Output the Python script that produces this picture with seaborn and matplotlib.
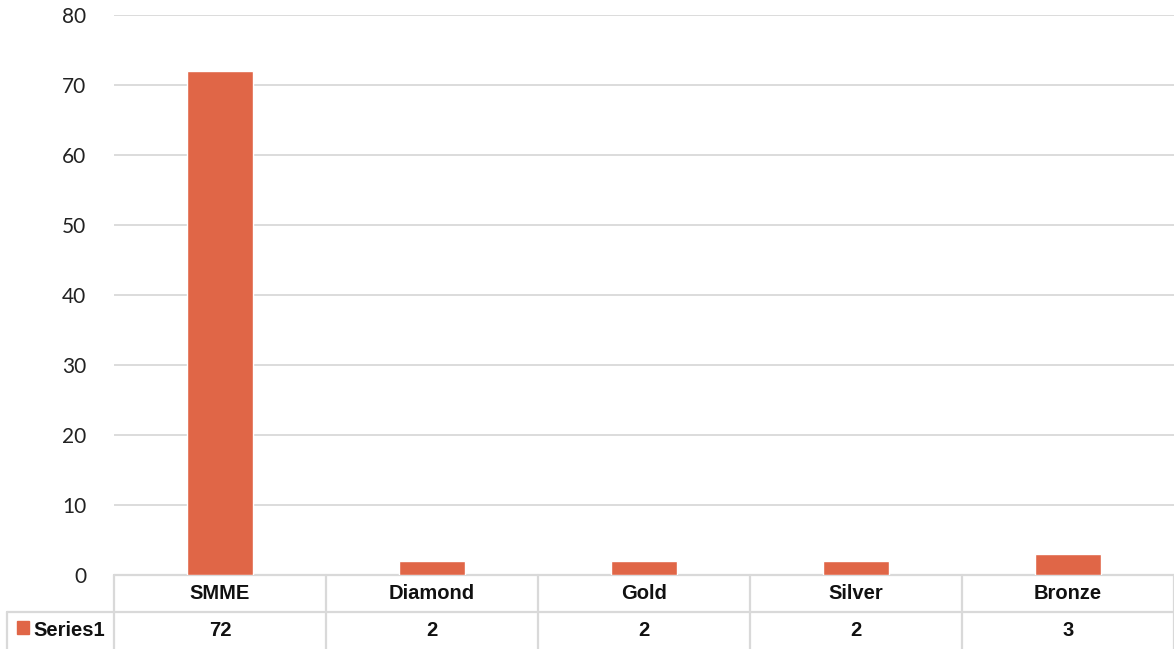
import matplotlib
matplotlib.use("Agg")
import matplotlib.pyplot as plt
from matplotlib.patches import Rectangle
import seaborn as sns
import pandas as pd

categories = ["SMME", "Diamond", "Gold", "Silver", "Bronze"]
values = [72, 2, 2, 2, 3]
series_name = "Series1"
y_ticks = [0, 10, 20, 30, 40, 50, 60, 70, 80]

bar_color = "#E06647"
grid_color = "#D9D9D9"

sns.set_theme(style="white")
plt.rcParams["font.family"] = ["Lato", "DejaVu Sans"]
bold_family = ["Liberation Sans", "DejaVu Sans"]

W, H = 1174, 649
fig = plt.figure(figsize=(W / 100, H / 100), dpi=100)
ax = fig.add_axes([114 / W, 1 - 575 / H, 1 - 114 / W, (575 - 15) / H])

df = pd.DataFrame({"category": categories, "value": values})
sns.barplot(data=df, x="category", y="value", color=bar_color, width=0.316,
            saturation=1, ax=ax, zorder=3)

ax.set_xlim(-0.5, len(categories) - 0.5)
ax.set_ylim(0, 80)
ax.set_yticks(y_ticks)
ax.set_yticklabels([str(t) for t in y_ticks], fontsize=15, color="#222222",
                   family=["Lato", "DejaVu Sans"])
ax.tick_params(axis="y", length=0, pad=20)
ax.set_xticks([])
ax.set_xlabel("")
ax.set_ylabel("")
ax.yaxis.grid(True, color=grid_color, linewidth=1.3, zorder=0)
for s in ax.spines.values():
    s.set_visible(False)

# data table underneath the axis
px = 1 / 560  # one pixel in axes-fraction units (vertical)
trans = ax.get_xaxis_transform()
row1_bottom = -37 * px
row2_bottom = -74 * px
line_kw = dict(color=grid_color, linewidth=1.6, clip_on=False, transform=trans)

ax.plot([-0.5, len(categories) - 0.5], [0, 0], **line_kw)
ax.plot([-0.5 - 107 / 212, len(categories) - 0.5], [row1_bottom, row1_bottom], **line_kw)
for i in range(len(categories) + 1):
    ax.plot([i - 0.5, i - 0.5], [0, row2_bottom], **line_kw)
ax.plot([-0.5 - 107 / 212] * 2, [row1_bottom, row2_bottom], **line_kw)

text_kw = dict(transform=trans, ha="center", va="center", fontsize=14.5,
               fontweight="bold", color="#111111", family=bold_family)
for i, (cat, val) in enumerate(zip(categories, values)):
    ax.text(i, row1_bottom / 2, cat, **text_kw)
    ax.text(i, (row1_bottom + row2_bottom) / 2, str(val), **text_kw)

# legend key in the series row
fig.patches.append(Rectangle((17 / W, 1 - 634 / H), 12 / W, 13 / H,
                             transform=fig.transFigure, color=bar_color))
fig.text(33 / W, 1 - 631 / H, series_name, ha="left", va="center",
         fontsize=14.5, fontweight="bold", color="#111111", family=bold_family)

fig.savefig("out.png", dpi=100)
